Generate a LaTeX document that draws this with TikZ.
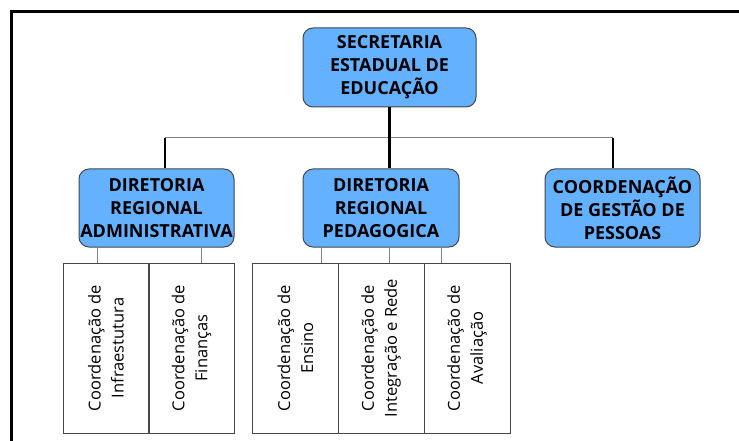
\documentclass[tikz,border=0pt]{standalone}
\usepackage{fontspec}
\setmainfont{Open Sans}
\definecolor{boxblue}{RGB}{99,177,255}
\definecolor{edge}{RGB}{70,70,70}
\begin{document}
\begin{tikzpicture}[x=1pt,y=-1pt,
  bluebox/.style={draw=edge, line width=1pt, fill=boxblue, rounded corners=10pt,
    align=center, font=\fontsize{18}{23}\selectfont\bfseries, inner sep=0pt},
  subbox/.style={draw=edge, line width=0.9pt, minimum width=86pt, minimum height=170pt, inner sep=0pt},
  subtext/.style={rotate=90, align=center, font=\fontsize{16.5}{23}\selectfont, inner sep=0pt},
  thinline/.style={draw=gray, line width=1pt},
  thickline/.style={draw=black, line width=2.4pt}
]
\useasboundingbox (0,0) rectangle (739,441);
\draw[line width=3pt] (11,441) -- (11,12) -- (739,12);

\node[bluebox, minimum width=173pt, minimum height=79pt] (sec) at (389.5,67.5) {SECRETARIA\\ESTADUAL DE\\EDUCAÇÃO};
\node[bluebox, minimum width=155pt, minimum height=78pt] (adm) at (156.5,208) {DIRETORIA\\REGIONAL\\ADMINISTRATIVA};
\node[bluebox, minimum width=156pt, minimum height=78pt] (ped) at (381,208) {DIRETORIA\\REGIONAL\\PEDAGOGICA};
\node[bluebox, minimum width=155pt, minimum height=78pt] (cgp) at (622.5,208) {COORDENAÇÃO\\DE GESTÃO DE\\PESSOAS};

\coordinate (hl) at (165,138);
\coordinate (hr) at (613,138);
\draw[thinline] (hl) -- (hr);
\draw[thickline] (hl) -- (hl |- adm.north);
\draw[thickline] (hr) -- (hr |- cgp.north);
\draw[thickline] (sec.south) -- (sec.south |- ped.north);

\node[subbox] (inf) at (106,348) {};
\node[subbox] (fin) at (191.5,348) {};
\node[subbox] (ens) at (295.5,348) {};
\node[subbox] (int) at (381,348) {};
\node[subbox] (ava) at (467,348) {};

\node[subtext] (tinf) at (inf.center) {Coordenação de\\Infraestutura};
\node[subtext] (tfin) at (fin.center) {Coordenação de\\Finanças};
\node[subtext] (tens) at (ens.center) {Coordenação de\\Ensino};
\node[subtext] (tint) at (int.center) {Coordenação de\\Integração e Rede};
\node[subtext] (tava) at (ava.center) {Coordenação de\\Avaliação};

\coordinate (a1) at (97,0);
\coordinate (a2) at (201,0);
\coordinate (p1) at (321,0);
\coordinate (p2) at (389,0);
\coordinate (p3) at (441,0);
\draw[thinline] (a1 |- adm.south) -- (a1 |- inf.north);
\draw[thinline] (a2 |- adm.south) -- (a2 |- fin.north);
\draw[thinline] (p1 |- ped.south) -- (p1 |- ens.north);
\draw[thinline] (p2 |- ped.south) -- (p2 |- int.north);
\draw[thinline] (p3 |- ped.south) -- (p3 |- ava.north);
\end{tikzpicture}
\end{document}
